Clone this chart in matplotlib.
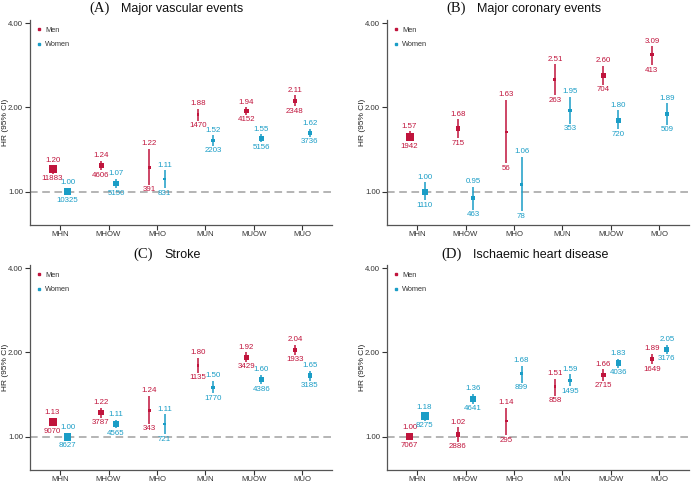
import numpy as np
import matplotlib
matplotlib.use("Agg")
from matplotlib import pyplot as plt
from matplotlib.lines import Line2D
from matplotlib.offsetbox import TextArea, HPacker, AnchoredOffsetbox

cats = ['MHN', 'MHOW', 'MHO', 'MUN', 'MUOW', 'MUO']

# (A) Major vascular events
a_men_hr = [1.20, 1.24, 1.22, 1.88, 1.94, 2.11]
a_men_lo = [1.16, 1.19, 1.06, 1.79, 1.88, 2.02]
a_men_hi = [1.24, 1.29, 1.42, 1.98, 2.00, 2.21]
a_men_n = [11883, 4606, 391, 1470, 4152, 2348]
a_wom_hr = [1.00, 1.07, 1.11, 1.52, 1.55, 1.62]
a_wom_lo = [1.00, 1.03, 1.03, 1.46, 1.50, 1.57]
a_wom_hi = [1.00, 1.11, 1.19, 1.59, 1.60, 1.68]
a_wom_n = [10325, 5150, 831, 2203, 5156, 3736]

# (B) Major coronary events
b_men_hr = [1.57, 1.68, 1.63, 2.51, 2.60, 3.09]
b_men_lo = [1.51, 1.55, 1.26, 2.21, 2.41, 2.83]
b_men_hi = [1.64, 1.81, 2.13, 2.85, 2.82, 3.31]
b_men_n = [1942, 715, 56, 263, 704, 413]
b_wom_hr = [1.00, 0.95, 1.06, 1.95, 1.80, 1.89]
b_wom_lo = [0.93, 0.86, 0.85, 1.75, 1.67, 1.73]
b_wom_hi = [1.08, 1.04, 1.33, 2.18, 1.95, 2.07]
b_wom_n = [1110, 463, 78, 353, 720, 509]

# (C) Stroke
c_men_hr = [1.13, 1.22, 1.24, 1.80, 1.92, 2.04]
c_men_lo = [1.09, 1.17, 1.11, 1.69, 1.85, 1.96]
c_men_hi = [1.17, 1.27, 1.40, 1.91, 2.00, 2.13]
c_men_n = [9070, 3787, 343, 1135, 3429, 1933]
c_wom_hr = [1.00, 1.11, 1.11, 1.50, 1.60, 1.65]
c_wom_lo = [1.00, 1.07, 1.02, 1.43, 1.54, 1.58]
c_wom_hi = [1.00, 1.15, 1.20, 1.58, 1.66, 1.72]
c_wom_n = [8627, 4565, 721, 1770, 4386, 3185]

# (D) Ischaemic heart disease
d_men_hr = [1.00, 1.02, 1.14, 1.51, 1.66, 1.89]
d_men_lo = [1.00, 0.96, 1.01, 1.40, 1.58, 1.81]
d_men_hi = [1.00, 1.08, 1.27, 1.61, 1.74, 1.98]
d_men_n = [7067, 2886, 295, 858, 2715, 1649]
d_wom_hr = [1.18, 1.36, 1.68, 1.59, 1.83, 2.05]
d_wom_lo = [1.14, 1.31, 1.56, 1.51, 1.76, 1.98]
d_wom_hi = [1.22, 1.42, 1.79, 1.67, 1.90, 2.13]
d_wom_n = [8275, 4641, 899, 1495, 4036, 3176]

panels = [
    ('(A)', 'Major vascular events',
     (a_men_hr, a_men_lo, a_men_hi, a_men_n), (a_wom_hr, a_wom_lo, a_wom_hi, a_wom_n)),
    ('(B)', 'Major coronary events',
     (b_men_hr, b_men_lo, b_men_hi, b_men_n), (b_wom_hr, b_wom_lo, b_wom_hi, b_wom_n)),
    ('(C)', 'Stroke',
     (c_men_hr, c_men_lo, c_men_hi, c_men_n), (c_wom_hr, c_wom_lo, c_wom_hi, c_wom_n)),
    ('(D)', 'Ischaemic heart disease',
     (d_men_hr, d_men_lo, d_men_hi, d_men_n), (d_wom_hr, d_wom_lo, d_wom_hi, d_wom_n)),
]

MEN = '#C0143C'
WOMEN = '#1A9DC6'
DPI = 100
W, H = 692, 484

plt.rcParams['font.family'] = ['Liberation Sans', 'DejaVu Sans']

fig = plt.figure(figsize=(W / DPI, H / DPI), dpi=DPI)

# axes boxes in pixels: left, top, width, height
boxes = [(30, 20), (387, 20), (30, 265), (387, 265)]
ax_w, ax_h = 301.5, 204.5
title_centers = [(166, 8), (524, 8), (167, 254), (525, 254)]

for (left, top), (tag, name, men, wom), (tcx, tcy) in zip(boxes, panels, title_centers):
    ax = fig.add_axes([left / W, (H - top - ax_h) / H, ax_w / W, ax_h / H])
    ax.set_yscale('log', base=2)
    ax.set_ylim(0.763, 4.1)
    ax.set_xlim(-0.62, 5.6)
    ax.axhline(1.0, color='#a0a0a0', lw=1.1, ls=(0, (5, 3)), zorder=1)

    x = np.arange(len(cats))
    nmax = max(max(men[3]), max(wom[3]))
    for (hr, lo, hi, n), off, col in ((men, -0.155, MEN), (wom, 0.155, WOMEN)):
        xs = x + off
        side_px = np.maximum(8.0 * np.sqrt(np.array(n) / nmax), 2.3)
        side_pt = side_px * 72 / DPI
        ax.vlines(xs, lo, hi, color=col, lw=1.1, zorder=2)
        ax.scatter(xs, hr, marker='s', s=side_pt ** 2, color=col, lw=0, zorder=3)
        for xi, h, l, u, ni, sp in zip(xs, hr, lo, hi, n, side_px):
            py = ax.transData.transform((xi, h))[1]
            up = max(ax.transData.transform((xi, u))[1] - py, sp / 2)
            dn = max(py - ax.transData.transform((xi, l))[1], sp / 2)
            ax.annotate(f'{h:.2f}', (xi, h), xytext=(0, (up + 1.5) * 72 / DPI),
                        textcoords='offset points', ha='center', va='bottom',
                        fontsize=5.7, color=col)
            ax.annotate(str(ni), (xi, h), xytext=(0, -(dn + 1.5) * 72 / DPI),
                        textcoords='offset points', ha='center', va='top',
                        fontsize=5.7, color=col)

    ax.set_yticks([1, 2, 4])
    ax.set_yticklabels(['1.00', '2.00', '4.00'])
    ax.minorticks_off()
    ax.set_xticks(x)
    ax.set_xticklabels(cats)
    ax.tick_params(labelsize=5.6, colors='#333333', length=3.5, width=0.8, pad=1.5)
    ax.set_ylabel('HR (95% CI)', fontsize=6, color='#222222')
    ax.yaxis.set_label_coords(-0.068, 0.5)
    for s in ('top', 'right'):
        ax.spines[s].set_visible(False)
    for s in ('left', 'bottom'):
        ax.spines[s].set_color('#555555')
        ax.spines[s].set_linewidth(0.9)

    handles = [Line2D([], [], marker='s', ls='', color=MEN, markersize=2.0),
               Line2D([], [], marker='s', ls='', color=WOMEN, markersize=2.0)]
    ax.legend(handles, ['Men', 'Women'], loc='upper left', frameon=False,
              fontsize=5.3, handlelength=0.6, handletextpad=0.6,
              labelspacing=1.0, borderaxespad=0.4, borderpad=0.5,
              labelcolor='#333333')

    title = HPacker(children=[
        TextArea(tag, textprops=dict(family='Liberation Serif', fontsize=10.5, color='#111111')),
        TextArea(name, textprops=dict(family='Liberation Sans', fontsize=9, color='#111111')),
    ], sep=8, align='baseline', pad=0)
    fig.add_artist(AnchoredOffsetbox(loc='center', child=title, frameon=False, pad=0,
                                     borderpad=0, bbox_to_anchor=(tcx / W, 1 - tcy / H),
                                     bbox_transform=fig.transFigure))

fig.savefig('out.png', dpi=DPI)
